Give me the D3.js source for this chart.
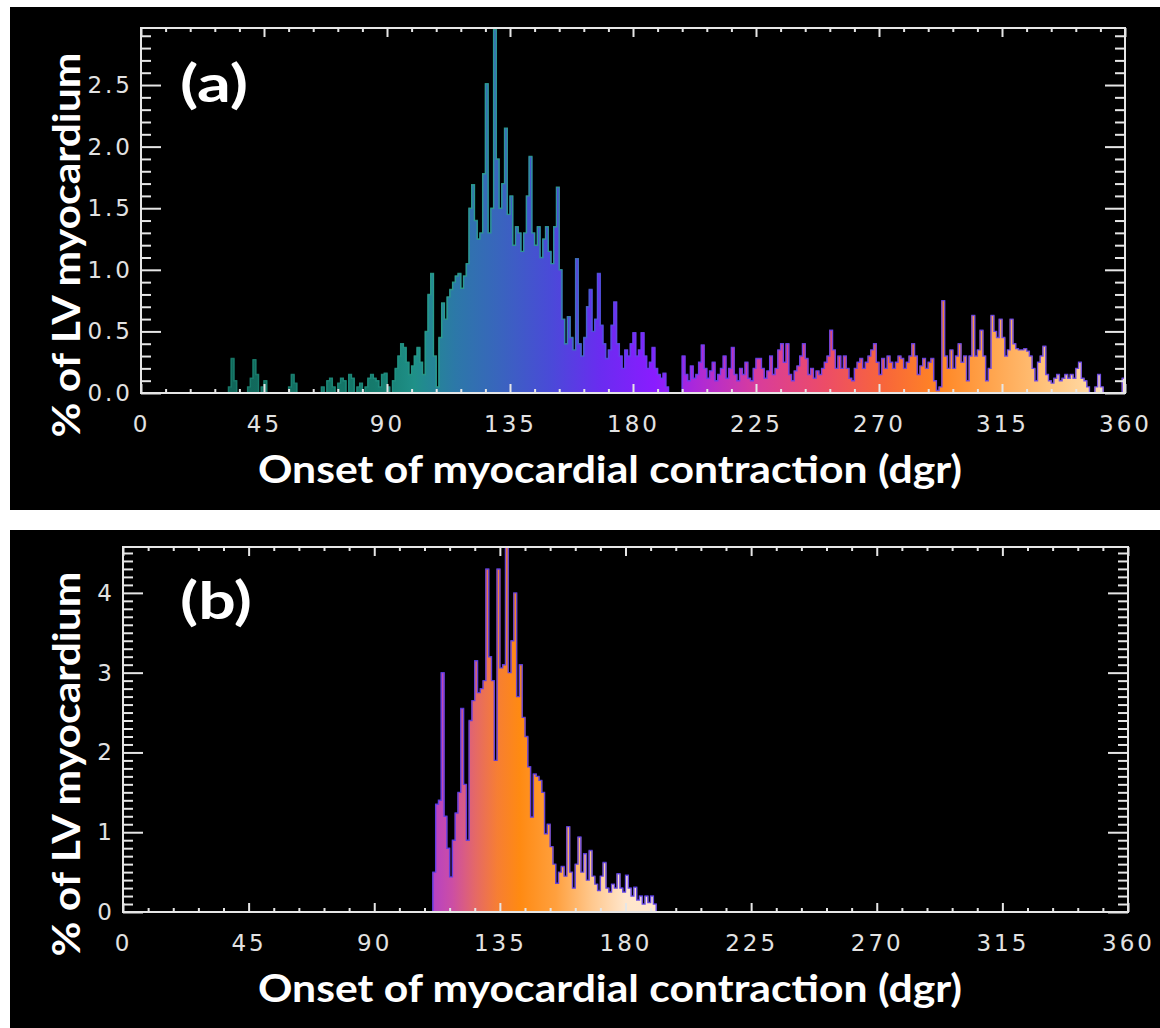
<!DOCTYPE html>
<html>
<head>
<meta charset="utf-8">
<script src="https://cdn.jsdelivr.net/npm/d3@7"></script>
<style>
body { margin: 0; background: #fff; }
svg { display: block; }
</style>
</head>
<body>
<svg id="mysvg" width="1160" height="1028"></svg>
<script>
// tick labels
var xTicks = [0, 45, 90, 135, 180, 225, 270, 315, 360];
var yTicksA = [0.0, 0.5, 1.0, 1.5, 2.0, 2.5];
var yTicksB = [0, 1, 2, 3, 4];

// (a) % of LV per 1 dgr bin, first bin = startA
var startA = 30;
var valuesA = [
  0, 0, 0.05, 0.28, 0.1, 0, 0, 0, 0, 0.05,
  0.12, 0.27, 0.15, 0, 0.05, 0.1, 0, 0, 0, 0,
  0, 0, 0, 0, 0.05, 0.15, 0.08, 0, 0, 0,
  0, 0, 0, 0, 0, 0, 0.05, 0, 0.1, 0.12,
  0.05, 0, 0.08, 0.12, 0.1, 0, 0.15, 0.12, 0, 0.05,
  0.08, 0, 0.05, 0.12, 0.15, 0.12, 0.1, 0.05, 0.15, 0.16,
  0.05, 0, 0.1, 0.2, 0.3, 0.4, 0.37, 0.25, 0.15, 0.22,
  0.3, 0.37, 0.25, 0.15, 0.5, 0.8, 0.97, 0.3, 0.05, 0.45,
  0.73, 0.6, 0.78, 0.84, 0.9, 0.95, 0.97, 0.85, 0.95, 1.05,
  1.5, 1.69, 1.4, 1.25, 1.3, 1.78, 2.51, 1.3, 1.5, 2.95,
  1.9, 1.5, 1.7, 2.15, 1.45, 1.6, 1.2, 1.35, 1.3, 1.15,
  1.3, 1.6, 1.92, 1.3, 1.2, 1.35, 1.1, 1.25, 1.35, 1.15,
  1.05, 1.35, 1.67, 1.0, 0.6, 0.4, 0.62, 0.45, 0.35, 1.09,
  0.4, 0.3, 0.45, 0.7, 0.84, 0.5, 0.6, 0.97, 0.55, 0.4,
  0.28, 0.35, 0.55, 0.74, 0.4, 0.3, 0.2, 0.35, 0.3, 0.4,
  0.49, 0.3, 0.35, 0.49, 0.3, 0.2, 0.25, 0.37, 0.2, 0.15,
  0.12, 0.16, 0.05, 0, 0, 0, 0, 0, 0.3, 0.15,
  0.1, 0.22, 0.12, 0.15, 0.25, 0.39, 0.2, 0.12, 0.18, 0.25,
  0.1, 0.15, 0.2, 0.3, 0.12, 0.2, 0.37, 0.15, 0.1, 0.2,
  0.15, 0.25, 0.12, 0.1, 0.2, 0.28, 0.28, 0.2, 0.12, 0.18,
  0.3, 0.15, 0.2, 0.35, 0.4, 0.25, 0.4, 0.15, 0.1, 0.18,
  0.22, 0.3, 0.4, 0.28, 0.15, 0.2, 0.12, 0.18, 0.15, 0.2,
  0.25, 0.3, 0.51, 0.35, 0.2, 0.3, 0.2, 0.3, 0.2, 0.12,
  0.1, 0.2, 0.25, 0.28, 0.2, 0.25, 0.3, 0.35, 0.4, 0.25,
  0.15, 0.28, 0.2, 0.3, 0.25, 0.2, 0.25, 0.3, 0.28, 0.2,
  0.25, 0.3, 0.4, 0.3, 0.15, 0.22, 0.28, 0.2, 0.25, 0.28,
  0.1, 0.02, 0.05, 0.75, 0.3, 0.2, 0.35, 0.2, 0.3, 0.4,
  0.25, 0.3, 0.1, 0.3, 0.63, 0.3, 0.35, 0.51, 0.3, 0.1,
  0.2, 0.63, 0.5, 0.45, 0.6, 0.45, 0.3, 0.35, 0.6, 0.4,
  0.36, 0.35, 0.35, 0.36, 0.34, 0.3, 0.2, 0.1, 0.25, 0.3,
  0.38, 0.15, 0.1, 0.08, 0.12, 0.15, 0.1, 0.12, 0.15, 0.12,
  0.15, 0.12, 0.2, 0.25, 0.12, 0.1, 0.05, 0, 0, 0.05,
  0.15, 0.05, 0, 0, 0, 0, 0, 0, 0, 0.12
];

// (b)
var startB = 110;
var valuesB = [
  0, 0.5, 1.35, 1.4, 3.0, 1.2, 0.8, 0.44, 0.9, 1.24,
  1.5, 2.55, 1.6, 0.9, 2.4, 2.65, 3.15, 2.75, 2.8, 2.9,
  4.3, 3.2, 2.9, 1.9, 4.3, 3.06, 3.1, 4.57, 3.0, 3.4,
  4.0, 2.7, 3.1, 2.44, 2.2, 1.82, 1.19, 1.73, 1.7, 1.65,
  1.5, 0.98, 1.1, 0.82, 0.6, 0.36, 0.5, 0.57, 0.45, 1.07,
  0.5, 0.3, 0.6, 0.94, 0.5, 0.73, 0.4, 0.77, 0.45, 0.35,
  0.27, 0.45, 0.62, 0.3, 0.25, 0.35, 0.3, 0.48, 0.3, 0.25,
  0.46, 0.3, 0.2, 0.31, 0.15, 0.2, 0.1, 0.2, 0.12, 0.2,
  0.1, 0
];

// colour table along the angle axis
var fillStopsA = [[0,"#0e5a4e"],[85,"#157a6c"],[100,"#1f9088"],[115,"#2c78a8"],[130,"#3866bc"],[150,"#4a4ad8"],[168,"#6a2cf0"],[188,"#8a1cff"],[205,"#b02ad4"],[225,"#d83c9c"],[250,"#ec4c68"],[272,"#f8663a"],[292,"#ff8624"],[312,"#ffa650"],[332,"#ffc47e"],[350,"#ffdcaa"],[360,"#ffe8c4"]];
var edgeStopsA = [[0,"#14705f"],[90,"#1f8f80"],[110,"#2aa08c"],[152,"#2c9a96"],[165,"#4a5ad8"],[182,"#6a3cf0"],[360,"#6a48ec"]];
var fillStopsB = [[0,"#9a38d8"],[110,"#b440c8"],[118,"#cc4ea4"],[126,"#e46868"],[134,"#f67e34"],[142,"#ff8a12"],[155,"#ffa03e"],[168,"#ffc88e"],[180,"#ffe6cc"],[360,"#fff4e8"]];
var edgeStopsB = [[0,"#5a3ce8"],[360,"#5a3ce8"]];

var svg = d3.select("#mysvg");
var defs = svg.append("defs");
var axisColor = "#e6e6e6";

function drawPanel(p) {
  svg.append("rect")
    .attr("x", 10).attr("y", p.boxTop)
    .attr("width", 1150).attr("height", p.boxBottom - p.boxTop)
    .attr("fill", "#000");

  var x = d3.scaleLinear().domain([0, 360]).range([p.left, p.right]);
  var y = d3.scaleLinear().domain([0, p.yMax]).range([p.bottom, p.top]);

  function grad(id, stops) {
    var g = defs.append("linearGradient").attr("id", id)
      .attr("gradientUnits", "userSpaceOnUse")
      .attr("x1", x(0)).attr("x2", x(360)).attr("y1", 0).attr("y2", 0);
    stops.forEach(function(s) {
      g.append("stop").attr("offset", s[0] / 360).attr("stop-color", s[1]);
    });
  }
  grad("fill" + p.id, p.fillStops);
  grad("edge" + p.id, p.edgeStops);

  defs.append("clipPath").attr("id", "clip" + p.id)
    .append("rect").attr("x", p.left).attr("y", p.top)
    .attr("width", p.right - p.left).attr("height", p.bottom - p.top);

  var bins = p.values.map(function(v, i) { return {deg: p.start + i, v: v}; });

  var plot = svg.append("g").attr("clip-path", "url(#clip" + p.id + ")");

  plot.selectAll(".bar")
    .data(bins.filter(function(d) { return d.v > 0; }))
    .enter().append("rect")
      .attr("class", "bar")
      .attr("x", function(d) { return x(d.deg) - 0.5; })
      .attr("width", function(d) { return x(d.deg + 1) - x(d.deg) + 1; })
      .attr("y", function(d) { return y(d.v); })
      .attr("height", function(d) { return y(0) - y(d.v); })
      .attr("fill", "url(#fill" + p.id + ")");

  // histogram outline
  var pts = [{deg: p.start, v: 0}].concat(bins, [{deg: p.start + p.values.length, v: 0}]);
  var line = d3.line()
    .x(function(d) { return x(d.deg); })
    .y(function(d) { return y(d.v); })
    .curve(d3.curveStepAfter);
  plot.append("path")
    .attr("d", line(pts))
    .attr("fill", "none")
    .attr("stroke", "url(#edge" + p.id + ")")
    .attr("stroke-width", 1.4)
    .attr("stroke-opacity", 0.9);

  // axes (ticks point inward)
  var xMinor = d3.range(0, 361, 9).filter(function(d) { return d % 45 != 0; });
  var yMinor = d3.range(1, Math.floor(p.yMax * 10) + 1).map(function(d) { return d / 10; })
    .filter(function(d) { return p.yTicks.indexOf(+d.toFixed(1)) < 0; });

  var axes = [
    svg.append("g").attr("transform", "translate(0," + p.bottom + ")")
      .call(d3.axisBottom(x).tickValues(xTicks).tickSize(-9).tickPadding(23).tickFormat(d3.format("d"))),
    svg.append("g").attr("transform", "translate(0," + p.bottom + ")")
      .call(d3.axisBottom(x).tickValues(xMinor).tickSize(-4).tickFormat("")),
    svg.append("g").attr("transform", "translate(0," + p.top + ")")
      .call(d3.axisTop(x).tickValues(xTicks).tickSize(-9).tickFormat("")),
    svg.append("g").attr("transform", "translate(0," + p.top + ")")
      .call(d3.axisTop(x).tickValues(xMinor).tickSize(-4).tickFormat("")),
    svg.append("g").attr("transform", "translate(" + p.left + ",0)")
      .call(d3.axisLeft(y).tickValues(p.yTicks).tickSize(-20).tickPadding(8).tickFormat(d3.format(p.yFormat))),
    svg.append("g").attr("transform", "translate(" + p.left + ",0)")
      .call(d3.axisLeft(y).tickValues(yMinor).tickSize(-10).tickFormat("")),
    svg.append("g").attr("transform", "translate(" + p.right + ",0)")
      .call(d3.axisRight(y).tickValues(p.yTicks).tickSize(-20).tickFormat("")),
    svg.append("g").attr("transform", "translate(" + p.right + ",0)")
      .call(d3.axisRight(y).tickValues(yMinor).tickSize(-10).tickFormat(""))
  ];
  axes.forEach(function(g) {
    g.select(".domain").remove();
    g.selectAll("line").attr("stroke", axisColor).attr("stroke-width", 2);
    g.selectAll("text")
      .attr("fill", "#e2e2e2")
      .style("font-family", "'DejaVu Sans', sans-serif")
      .style("font-size", "23px")
      .style("letter-spacing", "3px");
  });

  svg.append("rect")
    .attr("x", p.left).attr("y", p.top)
    .attr("width", p.right - p.left).attr("height", p.bottom - p.top)
    .attr("fill", "none").attr("stroke", axisColor).attr("stroke-width", 2);

  // titles
  svg.append("text")
    .attr("transform", "translate(80," + p.yTitleY + ") rotate(-90)")
    .attr("text-anchor", "middle")
    .attr("textLength", 385).attr("lengthAdjust", "spacingAndGlyphs")
    .style("font-family", "Lato, 'Open Sans', sans-serif")
    .style("font-weight", "bold").style("font-size", "38px")
    .attr("fill", "#fff")
    .text("% of LV myocardium");

  svg.append("text")
    .attr("x", 610).attr("y", p.xTitleY)
    .attr("text-anchor", "middle")
    .attr("textLength", 704).attr("lengthAdjust", "spacingAndGlyphs")
    .style("font-family", "Lato, 'Open Sans', sans-serif")
    .style("font-weight", "bold").style("font-size", "38px")
    .attr("fill", "#fff")
    .text("Onset of myocardial contraction (dgr)");

  svg.append("text")
    .attr("x", 180).attr("y", p.tagY)
    .attr("textLength", p.tagW).attr("lengthAdjust", "spacingAndGlyphs")
    .style("font-family", "Lato, 'Open Sans', sans-serif")
    .style("font-weight", "bold").style("font-size", "52px")
    .attr("fill", "#fff")
    .text(p.tag);
}

drawPanel({
  id: "A", tag: "(a)", tagY: 102, tagW: 68,
  boxTop: 7, boxBottom: 510,
  left: 141, right: 1125, top: 28, bottom: 393,
  yMax: 2.963, yTicks: yTicksA, yFormat: ".1f",
  start: startA, values: valuesA,
  fillStops: fillStopsA, edgeStops: edgeStopsA,
  yTitleY: 245, xTitleY: 483
});

drawPanel({
  id: "B", tag: "(b)", tagY: 619, tagW: 72,
  boxTop: 530, boxBottom: 1028,
  left: 123, right: 1128, top: 547, bottom: 912,
  yMax: 4.575, yTicks: yTicksB, yFormat: "d",
  start: startB, values: valuesB,
  fillStops: fillStopsB, edgeStops: edgeStopsB,
  yTitleY: 764, xTitleY: 1002
});
</script>
</body>
</html>
